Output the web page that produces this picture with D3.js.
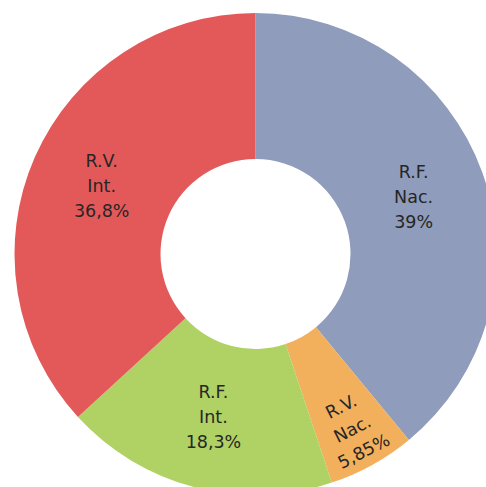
<!DOCTYPE html>
<html><head><meta charset="utf-8">
<script src="https://cdn.jsdelivr.net/npm/d3@7"></script>
<style>html,body{margin:0;padding:0;background:#fff;overflow:hidden}</style>
</head><body>
<svg id="c" width="486" height="487"></svg>
<script>
const categories = ["R.F. Nac.", "R.V. Nac.", "R.F. Int.", "R.V. Int."];
const values = [39, 5.85, 18.3, 36.8];
const valueLabels = ["39%", "5,85%", "18,3%", "36,8%"];
const colors = ["#8F9CBB", "#F2B05D", "#B0D163", "#E3595A"];

const svg = d3.select("#c");
const cx = 255.5, cy = 254, rOuter = 241, rInner = 95;
const g = svg.append("g").attr("transform", `translate(${cx},${cy})`);
const pie = d3.pie().sort(null).value(d => d.v);
const data = categories.map((c, i) => ({c, v: values[i], l: valueLabels[i], col: colors[i]}));
const arcs = pie(data);
const arc = d3.arc().innerRadius(rInner).outerRadius(rOuter);
g.selectAll("path").data(arcs).enter().append("path")
  .attr("d", arc).attr("fill", d => d.data.col);

const labArc = d3.arc().innerRadius(rInner).outerRadius(rOuter);
const smallArc = d3.arc().innerRadius(160).outerRadius(240);
arcs.forEach((a, i) => {
  const small = (a.endAngle - a.startAngle) < 0.5;
  const [x, y] = (small ? smallArc : labArc).centroid(a);
  const mid = (a.startAngle + a.endAngle) / 2 * 180 / Math.PI;
  const rot = small ? mid - 180 + 2 : 0;
  const parts = a.data.c.split(" ").concat([a.data.l]);
  const t = g.append("text")
    .attr("transform", `translate(${x},${y}) rotate(${rot})`)
    .attr("text-anchor", "middle")
    .attr("font-family", "'DejaVu Sans', sans-serif")
    .attr("font-size", 17.5)
    .attr("fill", "#262626");
  parts.forEach((p, j) => {
    t.append("tspan").attr("x", 0).attr("y", (j - 1) * 25 + 6).text(p);
  });
});
</script>
</body></html>
